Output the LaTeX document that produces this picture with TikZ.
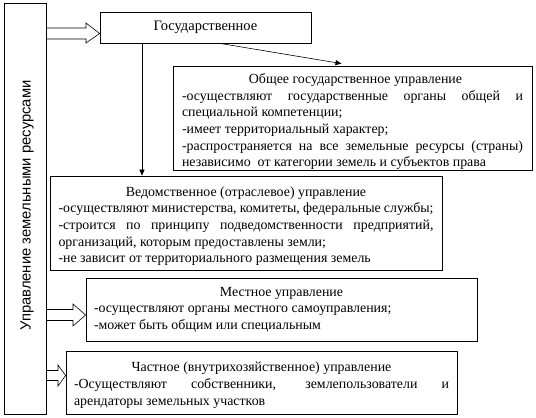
\documentclass[tikz,border=0pt]{standalone}
\usepackage{fontspec}
\setmainfont{Liberation Serif}
\newfontfamily\sansf{Liberation Sans}
\usetikzlibrary{calc,arrows.meta}
\tikzset{
  boxtext/.style={draw, line width=0.8pt, align=justify, inner ysep=0pt,
    font=\fontsize{13.9}{16.6}\selectfont},
  conn/.style={line width=0.6pt, -{Triangle[length=6pt,width=5pt]}},
  hollow/.style={line width=0.6pt}
}
\newcommand{\ttl}[2][0pt]{{\centering\rule{0pt}{#1}#2\par}}
\begin{document}
\begin{tikzpicture}[x=1pt,y=-1pt]
\useasboundingbox (0,0) rectangle (536,418);
% left vertical box
\node[draw, line width=0.8pt, minimum width=42pt, minimum height=411pt, inner sep=0pt]
  (mgmt) at (25,208.5) {};
\node[rotate=90, font=\sansf\fontsize{14.8}{16}\selectfont] (mgmtlbl) at ($(mgmt.center)+(2,-3)$) {Управление земельными ресурсами};
% boxes
\node[draw, line width=0.8pt, minimum width=211pt, minimum height=31pt, inner sep=0pt,
  font=\fontsize{14.5}{16.5}\selectfont] (gos) at (205.5,27.5) {Государственное};
\node[boxtext, text width=341pt, inner xsep=9pt, minimum height=104pt] (obsh) at (352.5,118) {%
\ttl[17.5pt]{\hspace*{6pt}Общее государственное управление}
-осуществляют государственные органы общей и\linebreak специальной компетенции;\par
-имеет территориальный характер;\par
-распространяется на все земельные ресурсы (страны)\linebreak независимо\ \ от категории земель и субъектов права};
\node[boxtext, text width=375pt, inner xsep=8.5pt, minimum height=94pt] (ved) at (246,223) {%
\ttl[16pt]{Ведомственное (отраслевое) управление}
-осуществляют министерства, комитеты, федеральные службы;\par
-строится по принципу подведомственности предприятий,\linebreak организаций, которым предоставлены земли;\par
-не зависит от территориального размещения земель};
\node[boxtext, text width=375pt, inner xsep=8pt, minimum height=63pt] (mest) at (281.5,309.5) {%
\ttl{Местное управление}
-осуществляют органы местного самоуправления;\par
-может быть общим или специальным};
\node[boxtext, text width=375pt, inner xsep=8pt, minimum height=63pt] (chast) at (261.5,382.5) {%
\ttl[15pt]{Частное (внутрихозяйственное) управление}
-Осуществляют собственники, землепользователи и\linebreak арендаторы земельных участков};
% connectors
\draw[conn] (gos.south -| 142,0) -- (ved.north -| 142,0);
\draw[conn] (gos.south -| 220,0) -- ($(obsh.north)+(-11,-2)$);
% hollow arrows
\coordinate (t1) at ($(gos.west)+(0,6)$);
\draw[hollow] (mgmt.east |- 0,28) -- (86,28) -- (86,23) -- (t1) -- (86,43) -- (86,39) -- (mgmt.east |- 0,39);
\coordinate (t2) at ($(mest.west)+(0,5.5)$);
\draw[hollow] (mgmt.east |- 0,309.5) -- (73,309.5) -- (73,304) -- (t2) -- (73,326) -- (73,320.5) -- (mgmt.east |- 0,320.5);
\coordinate (t3) at ($(chast.west)+(0,-7)$);
\draw[hollow] (mgmt.east |- 0,370.5) -- (58,370.5) -- (58,365) -- (t3) -- (58,386) -- (58,380.5) -- (mgmt.east |- 0,380.5);
\end{tikzpicture}
\end{document}
